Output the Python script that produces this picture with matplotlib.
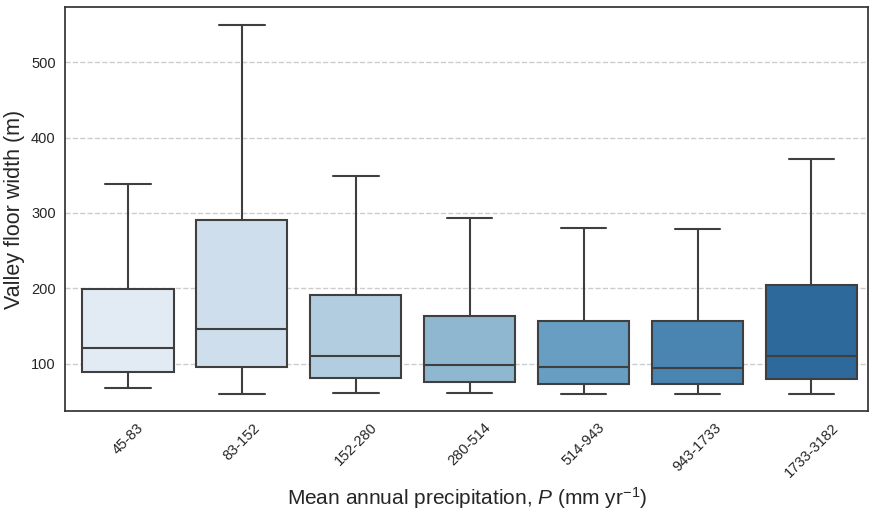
import numpy as np
import matplotlib
matplotlib.use("Agg")
import matplotlib.pyplot as plt
import seaborn as sns

sns.set_style("white")
plt.rcParams['font.family'] = ['Liberation Sans', 'DejaVu Sans']
plt.rcParams['mathtext.fontset'] = 'custom'
plt.rcParams['mathtext.it'] = 'Liberation Sans:italic'
plt.rcParams['mathtext.rm'] = 'Liberation Sans'

categories = ['45-83', '83-152', '152-280', '280-514', '514-943', '943-1733', '1733-3182']
whislo = [67, 60, 61, 61, 60, 60, 60]
q1 = [89, 95, 81, 75, 73, 73, 79]
med = [120, 146, 110, 98, 96, 94, 110]
q3 = [199, 290, 191, 163, 157, 156, 204]
whishi = [338, 549, 349, 293, 280, 278, 371]

stats = []
for i, lab in enumerate(categories):
    stats.append(dict(label=lab, whislo=whislo[i], q1=q1[i], med=med[i],
                      q3=q3[i], whishi=whishi[i], fliers=[]))

# box fills (light to dark blue)
colors = ['#e2eaf4', '#cedeec', '#b3cde0', '#8fb7cf', '#679ec1', '#4a84b0', '#2e699b']

fig, ax = plt.subplots(figsize=(8.71, 5.15), dpi=100)
ec = '#3f3f3f'
bp = ax.bxp(stats, positions=np.arange(len(categories)), widths=0.8,
            patch_artist=True, showfliers=False,
            boxprops=dict(edgecolor=ec, linewidth=1.5),
            medianprops=dict(color=ec, linewidth=1.5),
            whiskerprops=dict(color=ec, linewidth=1.5),
            capprops=dict(color=ec, linewidth=1.5))
for patch, c in zip(bp['boxes'], colors):
    patch.set_facecolor(c)

ax.set_xlim(-0.55, 6.5)
ax.set_ylim(37, 573)
ax.set_yticks([100, 200, 300, 400, 500])
ax.yaxis.grid(True, linestyle='--', color='#cccccc', linewidth=1)
ax.set_axisbelow(True)
ax.tick_params(axis='y', labelsize=10.5)
ax.tick_params(axis='x', labelsize=10.5)
plt.setp(ax.get_xticklabels(), rotation=45)
for s in ax.spines.values():
    s.set_color('#333333')
    s.set_linewidth(1.25)
ax.set_ylabel('Valley floor width (m)', fontsize=15.5)
ax.set_xlabel(r'Mean annual precipitation, $P$ (mm yr$^{-1}$)', fontsize=15)

fig.subplots_adjust(left=0.075, right=0.997, top=0.986, bottom=0.202)
fig.savefig('out.png', dpi=100)
